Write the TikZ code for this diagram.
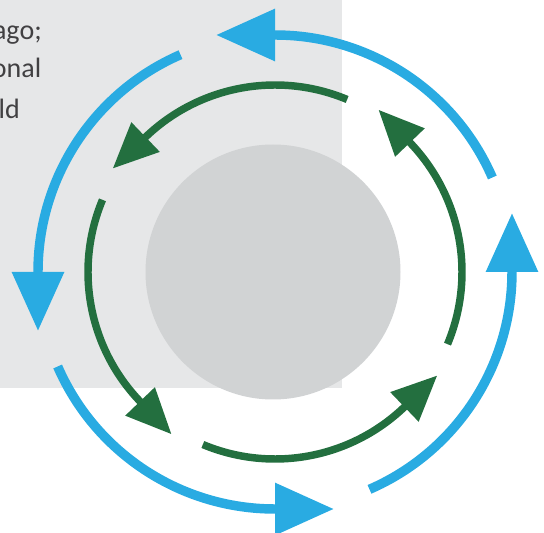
\documentclass[tikz,border=0pt]{standalone}
\usepackage{fontspec}
\setmainfont{Carlito}
\usetikzlibrary{arrows.meta,calc}
\definecolor{ringblue}{HTML}{29ABE2}
\definecolor{ringgreen}{HTML}{236F3F}
\definecolor{panelgray}{HTML}{E6E7E8}
\definecolor{discgray}{HTML}{D1D3D4}
\definecolor{textgray}{HTML}{414042}
\tikzset{
  bluearc/.style={draw=ringblue, line width=7.1pt, -{Triangle[length=44.25pt,width=37.5pt]}},
  greenarc/.style={draw=ringgreen, line width=5.6pt, -{Triangle[length=34.2pt,width=29.25pt]}},
  sidetext/.style={text=textgray, font=\fontsize{21pt}{25pt}\selectfont, anchor=base east, inner sep=0pt}
}
\begin{document}
\begin{tikzpicture}[x=0.75pt,y=0.75pt]
\useasboundingbox (0,0) rectangle (544,533);
\clip (0,0) rectangle (544,533);
\fill[panelgray] (0,145) rectangle (342,533);
\node[sidetext] (t1) at (42,493) {ago;};
\node[sidetext] (t2) at (41.5,455) {onal};
\node[sidetext] (t3) at (20,414) {ld};
\coordinate (C) at (275,261);
\fill[discgray] (273,261) circle (127.5);
% blue outer ring
\foreach \s in {0,90,180,270}{
  \draw[bluearc] ($(C)+(\s+23.5:237)$) arc[start angle=\s+23.5, end angle=\s+90, radius=237] -- ++(\s+180:44.25pt);
}
% green inner ring
\foreach \s in {0,90,180,270}{
  \draw[greenarc] ($(C)+(\s+67.3:187)$) arc[start angle=\s+67.3, end angle=\s+133.8, radius=187] -- ++(\s+223.8:34.2pt);
}
\end{tikzpicture}
\end{document}
